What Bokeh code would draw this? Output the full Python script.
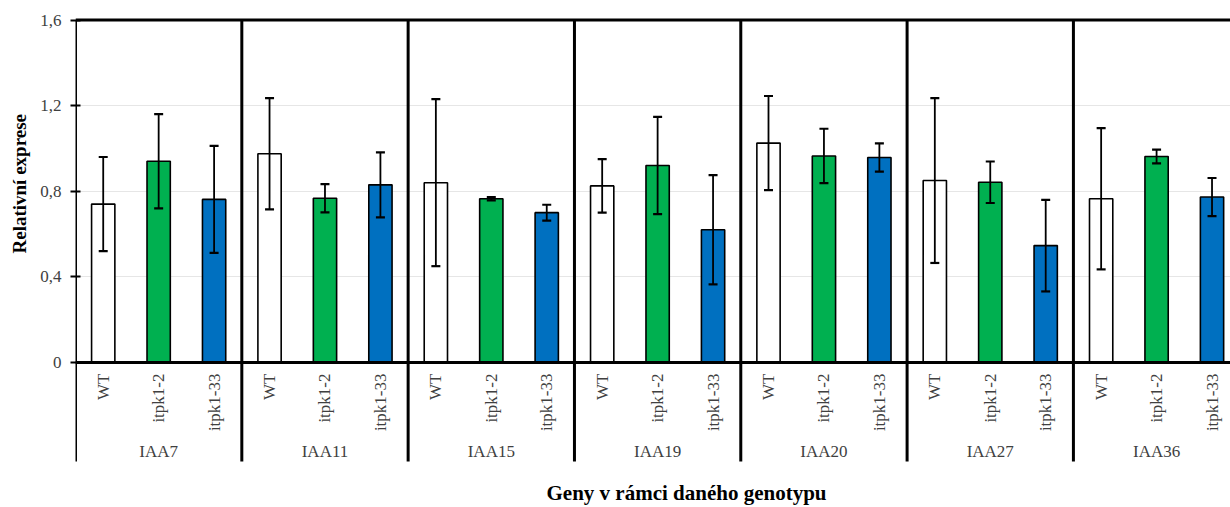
import math
from bokeh.plotting import figure
from bokeh.models import (ColumnDataSource, Range1d, FixedTicker, Whisker, TeeHead,
                          LinearAxis, Title)
from bokeh.core.properties import value
from bokeh.embed import file_html
from bokeh.resources import INLINE

# Relative expression of auxin-responsive genes per genotype (mean and error)
genes = ["IAA7", "IAA11", "IAA15", "IAA19", "IAA20", "IAA27", "IAA36"]
genotypes = ["WT", "itpk1-2", "itpk1-33"]

wt = [0.74, 0.975, 0.84, 0.825, 1.025, 0.85, 0.765]
wt_err = [0.22, 0.26, 0.39, 0.125, 0.22, 0.385, 0.33]
itpk1_2 = [0.94, 0.767, 0.765, 0.92, 0.965, 0.842, 0.962]
itpk1_2_err = [0.22, 0.066, 0.008, 0.227, 0.127, 0.097, 0.032]
itpk1_33 = [0.762, 0.83, 0.70, 0.62, 0.958, 0.546, 0.773]
itpk1_33_err = [0.25, 0.152, 0.037, 0.255, 0.066, 0.214, 0.089]

genotype_colors = ["#FFFFFF", "#00B050", "#0070C0"]

y_ticks = [0, 0.4, 0.8, 1.2, 1.6]
y_tick_labels = ["0", "0,4", "0,8", "1,2", "1,6"]

x_title = "Geny v rámci daného genotypu"
y_title = "Relativní exprese"

SERIF = "Liberation Serif"
TEXT_GREY = "#404040"

# flatten into one bar per (gene, genotype)
series = [(wt, wt_err), (itpk1_2, itpk1_2_err), (itpk1_33, itpk1_33_err)]
xs, tops, lows, highs, colors, cats = [], [], [], [], [], []
for gi, _ in enumerate(genes):
    for si, (vals, errs) in enumerate(series):
        xs.append(gi * 3 + si + 0.5)
        tops.append(vals[gi])
        lows.append(vals[gi] - errs[gi])
        highs.append(vals[gi] + errs[gi])
        colors.append(genotype_colors[si])
        cats.append(genotypes[si])

src = ColumnDataSource(dict(x=xs, top=tops, lower=lows, upper=highs,
                            color=colors, cat=cats))

# the frame runs from the top of the canvas to its bottom edge; value 0 sits
# 362 px down, 1.6 sits 19.5 px down
W, H = 1230, 507
LEFT = 75
px_per_unit = (362 - 19.5) / 1.6
y_end = 1.6 + 19.5 / px_per_unit
y_start = -(H - 362) / px_per_unit
tier_bottom = -(461 - 362) / px_per_unit
n_slots = 20.8333
slot_px = (W - LEFT) / n_slots

p = figure(width=W, height=H, output_backend="svg", toolbar_location=None,
           x_range=Range1d(0, n_slots), y_range=Range1d(y_start, y_end),
           min_border_left=LEFT, min_border_right=0, min_border_top=0,
           min_border_bottom=0, x_axis_location=None, y_axis_location=None)
p.outline_line_color = None
p.background_fill_color = "white"
p.border_fill_color = "white"

yaxis = LinearAxis(ticker=FixedTicker(ticks=y_ticks), minor_tick_line_color=None,
                   axis_line_color=None,
                   major_tick_line_width=2, major_tick_line_color="black",
                   major_tick_in=5, major_tick_out=5, major_label_standoff=9,
                   major_label_text_font=SERIF, major_label_text_font_size="17px",
                   major_label_text_color=TEXT_GREY,
                   major_label_overrides={t: l for t, l in zip(y_ticks, y_tick_labels)})
p.add_layout(yaxis, "left")

p.add_layout(Title(text=y_title, align="left", offset=H - 253, vertical_align="middle",
                   text_font=SERIF, text_font_style="bold", text_font_size="19px",
                   text_color="black", standoff=13), "left")

p.xgrid.visible = False
p.ygrid.ticker = FixedTicker(ticks=[0.4, 0.8, 1.2])
p.ygrid.grid_line_color = "#E6E6E6"
p.ygrid.grid_line_width = 1.2

# bars
p.vbar(x="x", top="top", bottom=0, width=0.42, fill_color="color",
       line_color="black", line_width=1.6, source=src)

# error bars
whisk = Whisker(source=src, base="x", lower="lower", upper="upper",
                line_color="black", line_width=1.8,
                upper_head=TeeHead(size=9, line_width=2.2, line_color="black"),
                lower_head=TeeHead(size=9, line_width=2.2, line_color="black"),
                level="overlay")
p.add_layout(whisk)

# frame lines: value axis, top border, zero line and group separators
sep_x = [3 * k for k in range(0, len(genes) + 1)]
p.segment(x0=sep_x, y0=[tier_bottom] * len(sep_x), x1=sep_x, y1=[1.6] * len(sep_x),
          line_color="black", line_width=3)
p.segment(x0=[0], y0=[1.6], x1=[n_slots], y1=[1.6], line_color="black", line_width=3)
p.segment(x0=[0], y0=[0], x1=[n_slots], y1=[0], line_color="black", line_width=3)

# genotype labels, rotated
p.text(x="x", y=-11 / px_per_unit, text="cat", source=src, angle=math.pi / 2,
       text_align="right", text_baseline="middle", text_font=value(SERIF),
       text_font_size="17px", text_color=TEXT_GREY)

# gene labels
p.text(x=[g * 3 + 1.5 for g in range(len(genes))], y=[-89 / px_per_unit] * len(genes),
       text=genes, text_align="center", text_baseline="middle",
       text_font=value(SERIF), text_font_size="17px", text_color=TEXT_GREY)

# category axis title
p.text(x=[(686 - LEFT) / slot_px], y=[(362 - 492) / px_per_unit], text=[x_title],
       text_align="center", text_baseline="middle", text_font=value(SERIF),
       text_font_style="bold", text_font_size="21px", text_color="black")

open("out.html", "w").write(file_html(p, INLINE))
